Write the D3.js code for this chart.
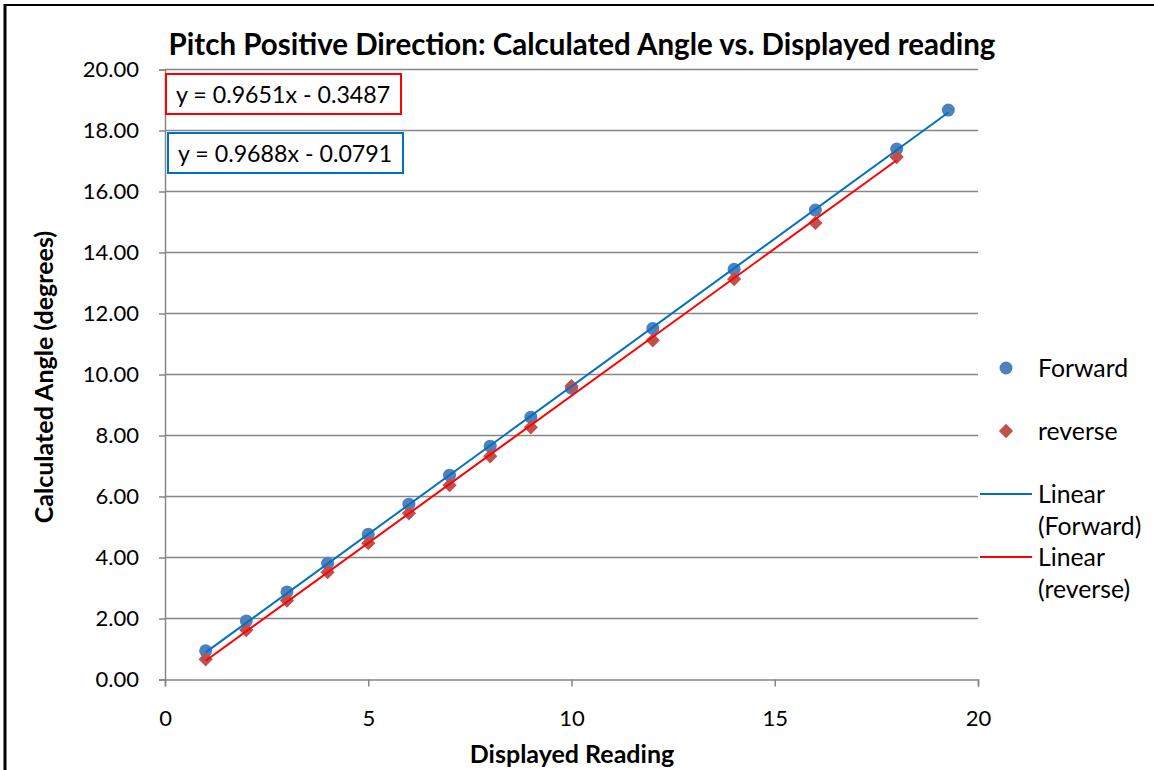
<!DOCTYPE html>
<html>
<head>
<meta charset="utf-8">
<script src="https://cdn.jsdelivr.net/npm/d3@7"></script>
<style>
  html, body { margin: 0; padding: 0; background: #fff; }
  svg { display: block; }
  text { font-family: Lato, "Open Sans", sans-serif; fill: #000; }
</style>
</head>
<body>
<svg id="chart" width="1154" height="770"></svg>
<script>
// Pitch test: displayed reading vs. calculated angle, two sweep directions
const forwardReading = [1, 2, 3, 4, 5, 6, 7, 8, 9, 10, 12, 14, 16, 18, 19.27];
const forwardAngle   = [0.94, 1.92, 2.87, 3.81, 4.76, 5.75, 6.70, 7.65, 8.60, 9.55, 11.51, 13.45, 15.39, 17.39, 18.67];
const reverseReading = [1, 2, 3, 4, 5, 6, 7, 8, 9, 10, 12, 14, 16, 18];
const reverseAngle   = [0.66, 1.62, 2.59, 3.52, 4.47, 5.45, 6.37, 7.32, 8.27, 9.62, 11.12, 13.13, 14.97, 17.13];

// Linear trendline coefficients (slope, intercept)
const forwardFit = [0.9688, -0.0791];
const reverseFit = [0.9651, -0.3487];

const xTicks = [0, 5, 10, 15, 20];
const yTicks = [0, 2, 4, 6, 8, 10, 12, 14, 16, 18, 20];

const titleText = "Pitch Positive Direction: Calculated Angle vs. Displayed reading";
const xTitle = "Displayed Reading";
const yTitle = "Calculated Angle (degrees)";

const svg = d3.select("#chart");
const gridColor = "#868686";
const forwardColor = "#4F81BD";
const reverseColor = "#C0504D";
const forwardLine = "#0070C0";
const reverseLine = "#FF0000";

const x = d3.scaleLinear().domain([0, 20]).range([165, 978]);
const y = d3.scaleLinear().domain([0, 20]).range([679.5, 69.5]);

// outer frame (left and top edges)
svg.append("line").attr("x1", 5).attr("x2", 5).attr("y1", 4).attr("y2", 770)
  .attr("stroke", "#000").attr("stroke-width", 3);
svg.append("line").attr("x1", 4).attr("x2", 1154).attr("y1", 5).attr("y2", 5)
  .attr("stroke", "#000").attr("stroke-width", 2);

// horizontal gridlines
svg.append("g").selectAll("line").data(yTicks.filter(d => d > 0)).join("line")
  .attr("x1", x(0)).attr("x2", x(20))
  .attr("y1", d => y(d)).attr("y2", d => y(d))
  .attr("stroke", gridColor).attr("stroke-width", 1.5);

// y axis
const yAxis = svg.append("g").attr("transform", `translate(${x(0)},0)`)
  .call(d3.axisLeft(y).tickValues(yTicks).tickFormat(d3.format(".2f")).tickSize(6).tickPadding(20));
yAxis.select(".domain").attr("stroke", gridColor).attr("stroke-width", 1.5);
yAxis.selectAll(".tick line").attr("stroke", gridColor).attr("stroke-width", 1.5);
yAxis.selectAll("text").style("font-size", "22px").attr("fill", "#000");

// x axis
const xAxis = svg.append("g").attr("transform", `translate(0,${y(0)})`)
  .call(d3.axisBottom(x).tickValues(xTicks).tickSize(7).tickPadding(24));
xAxis.select(".domain").attr("stroke", gridColor).attr("stroke-width", 1.5);
xAxis.selectAll(".tick line").attr("stroke", gridColor).attr("stroke-width", 1.5);
xAxis.selectAll("text").style("font-size", "22px").attr("fill", "#000");

// titles
svg.append("text").attr("x", 582).attr("y", 55).attr("text-anchor", "middle")
  .style("font-size", "29.5px").style("font-weight", "bold").text(titleText);
svg.append("text").attr("x", 572).attr("y", 763).attr("text-anchor", "middle")
  .style("font-size", "25px").style("font-weight", "bold").text(xTitle);
svg.append("text").attr("transform", "translate(53,377) rotate(-90)").attr("text-anchor", "middle")
  .style("font-size", "25px").style("font-weight", "bold").text(yTitle);

// markers
const fwd = forwardReading.map((r, i) => [r, forwardAngle[i]]);
const rev = reverseReading.map((r, i) => [r, reverseAngle[i]]);

svg.append("g").selectAll("circle").data(fwd).join("circle")
  .attr("cx", d => x(d[0])).attr("cy", d => y(d[1])).attr("r", 6.5)
  .attr("fill", forwardColor);

const diamond = d3.symbol().type(d3.symbolDiamond2).size(130);
svg.append("g").selectAll("path").data(rev).join("path")
  .attr("d", diamond)
  .attr("transform", d => `translate(${x(d[0])},${y(d[1])})`)
  .attr("fill", reverseColor);

// trendlines from the fitted equations
function trend(fit, xs, color) {
  const x0 = d3.min(xs), x1 = d3.max(xs);
  svg.append("line")
    .attr("x1", x(x0)).attr("y1", y(fit[0] * x0 + fit[1]))
    .attr("x2", x(x1)).attr("y2", y(fit[0] * x1 + fit[1]))
    .attr("stroke", color).attr("stroke-width", 2);
}
trend(forwardFit, forwardReading, forwardLine);
trend(reverseFit, reverseReading, reverseLine);

// equation labels
function eqLabel(fit, bx, by, color) {
  const txt = `y = ${fit[0].toFixed(4)}x - ${Math.abs(fit[1]).toFixed(4)}`;
  svg.append("rect").attr("x", bx).attr("y", by).attr("width", 235).attr("height", 40)
    .attr("fill", "#fff").attr("stroke", color).attr("stroke-width", 2);
  svg.append("text").attr("x", bx + 10).attr("y", by + 29)
    .style("font-size", "23.2px").text(txt);
}
eqLabel(reverseFit, 166, 74, reverseLine);
eqLabel(forwardFit, 168, 133, forwardLine);

// legend
const lg = svg.append("g");
const lgFont = "24.8px";
lg.append("circle").attr("cx", 1006).attr("cy", 368).attr("r", 6.5).attr("fill", forwardColor);
lg.append("text").attr("x", 1038).attr("y", 377).style("font-size", lgFont).text("Forward");
lg.append("path").attr("d", diamond).attr("transform", "translate(1006,431)").attr("fill", reverseColor);
lg.append("text").attr("x", 1038).attr("y", 440).style("font-size", lgFont).text("reverse");
lg.append("line").attr("x1", 980).attr("x2", 1032).attr("y1", 494).attr("y2", 494)
  .attr("stroke", forwardLine).attr("stroke-width", 2);
lg.append("text").attr("x", 1038).attr("y", 503).style("font-size", lgFont).text("Linear");
lg.append("text").attr("x", 1038).attr("y", 535).style("font-size", lgFont).text("(Forward)");
lg.append("line").attr("x1", 980).attr("x2", 1032).attr("y1", 557).attr("y2", 557)
  .attr("stroke", reverseLine).attr("stroke-width", 2);
lg.append("text").attr("x", 1038).attr("y", 566).style("font-size", lgFont).text("Linear");
lg.append("text").attr("x", 1038).attr("y", 598).style("font-size", lgFont).text("(reverse)");
</script>
</body>
</html>
